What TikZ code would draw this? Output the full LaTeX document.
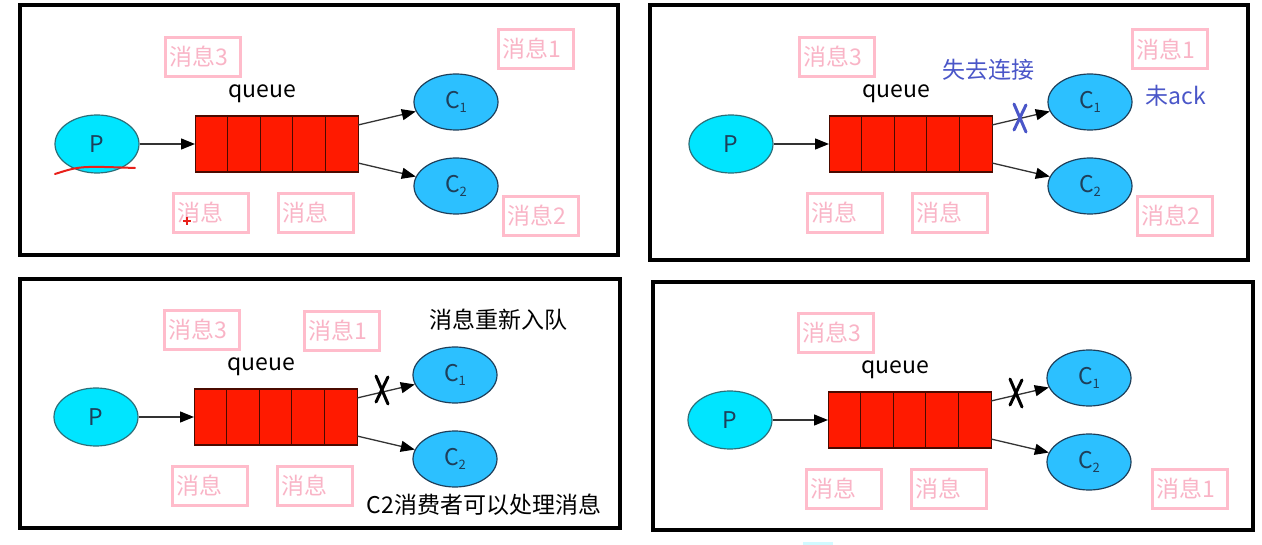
\documentclass[tikz,border=0pt]{standalone}
\usepackage{fontspec}
\setmainfont{Noto Sans CJK SC}
\usetikzlibrary{arrows.meta,shapes.geometric}
\definecolor{wire}{HTML}{333333}
\definecolor{pfill}{HTML}{00E5FF}
\definecolor{pedge}{HTML}{2D6E78}
\definecolor{cfill}{HTML}{2CC0FF}
\definecolor{cedge}{HTML}{1E3F5A}
\definecolor{qfill}{HTML}{FF1A00}
\definecolor{qedge}{HTML}{4A0A00}
\definecolor{pinkline}{HTML}{FFBCCB}
\definecolor{pinktext}{HTML}{F9B4C6}
\definecolor{lost}{HTML}{4A56C8}
\definecolor{scrib}{HTML}{E8201A}
\tikzset{
  every node/.style={font=\fontsize{23}{26}\selectfont,inner sep=0pt},
  frame/.style={draw=black,line width=3.5pt},
  flow/.style={-{Triangle[length=14pt,width=11pt,color=black]},draw=wire,line width=1.3pt},
  prod/.style={ellipse,draw=pedge,fill=pfill,line width=1.2pt,
               minimum width=84pt,minimum height=58pt,text=cedge},
  cons/.style={ellipse,draw=cedge,fill=cfill,line width=1.2pt,
               minimum width=84pt,minimum height=56pt,text=cedge},
  qbox/.style={draw=qedge,fill=qfill,line width=1.2pt,minimum width=163pt,
               minimum height=56pt},
  msg/.style={draw=pinkline,line width=3pt,text=pinktext,minimum width=75pt,
              minimum height=39pt,text width=67pt,align=left,inner xsep=4pt},
  cut/.style={line width=3pt,line cap=round},
}
% one scene: #1 name prefix, (#2,#3) centre of the producer
\newcommand{\mqpanel}[3]{%
  \node[prod] (#1p) at (#2,#3) {P};
  \node[qbox,anchor=west] (#1q) at (#2+98,#3) {};
  \foreach \i in {1,...,4}{%
    \draw[qedge,line width=1.2pt] (#2+98+\i*32.6,#3-28) -- ++(0,56);}%
  \node (#1lbl) at (#2+165,#3-50) {queue};
  \node[cons] (#1c1) at (#2+359,#3-42) {C\raisebox{-.3ex}{\fontsize{13}{13}\selectfont 1}};
  \node[cons] (#1c2) at (#2+359,#3+42) {C\raisebox{-.3ex}{\fontsize{13}{13}\selectfont 2}};
  \coordinate (#1o1) at (#2+261,#3-19);
  \coordinate (#1o2) at (#2+261,#3+19);
  \draw[flow] (#1p) -- (#1q);
  \draw[flow] (#1o1) -- (#1c1);
  \draw[flow] (#1o2) -- (#1c2);
  \node[msg] (#1m3) at (#2+106,#3-87) {消息3};
  \node[msg] (#1ma) at (#2+113.5,#3+69) {消息};
  \node[msg] (#1mb) at (#2+218.5,#3+69) {消息};
}
% a broken link, drawn as a tall hand-made cross
\newcommand{\cutmark}[3]{%
  \draw[cut,#3] (#1-6,#2-14) -- (#1+6,#2+14);
  \draw[cut,#3] (#1+6,#2-13) -- (#1-6,#2+12);
}

\begin{document}
\begin{tikzpicture}[x=1pt,y=-1pt]
\path[use as bounding box] (0,0) rectangle (1262,545);

\draw[frame] (20,5) rectangle (618,255);
\draw[frame] (650,5) rectangle (1248,260);
\draw[frame] (20,279) rectangle (620,528);
\draw[frame] (653,282) rectangle (1253,530);

% top left: both consumers hold a message
\mqpanel{a}{97}{144}
\node[msg] (a1) at (535.5,49) {消息1};
\node[msg] (a2) at (540.5,216) {消息2};
\draw[scrib,line width=2pt,line cap=round] (55,174) .. controls (80,166) .. (135,168);
\draw[scrib,line width=1.5pt] (183,221) -- (191,221) (187,217) -- (187,225);

% top right: C1 drops its connection before it acks
\mqpanel{b}{731}{144}
\node[msg] (b1) at (1169.5,49.5) {消息1};
\node[msg] (b2) at (1174.5,216) {消息2};
\node[text=lost] (blost) at (988,70) {失去连接};
\node[text=lost] (back) at (1176,96) {未ack};
\cutmark{1020}{118}{lost}

% bottom left: the message goes back into the queue
\mqpanel{c}{96}{417}
\node[msg] (c1box) at (342,331) {消息1};
\node (crq) at (498,320) {消息重新入队};
\node (cok) at (484,505) {C2消费者可以处理消息};
\cutmark{382}{390}{black}

% bottom right: C2 receives it
\mqpanel{d}{730}{420}
\node[msg] (d1) at (1189.5,489) {消息1};
\cutmark{1016}{393}{black}

\fill[pfill!18] (803,542) rectangle (833,545);
\end{tikzpicture}
\end{document}
